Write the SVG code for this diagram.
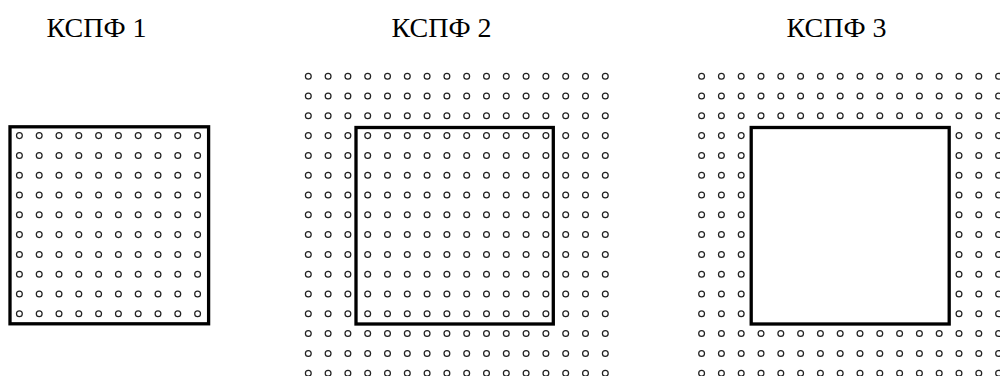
<svg xmlns="http://www.w3.org/2000/svg" width="1000" height="376" viewBox="0 0 1000 376">
<defs>
<style>
.lbl{font-family:"Liberation Serif","Times New Roman",serif;font-size:28px;fill:#000}
.frame{fill:none;stroke:#000;stroke-width:3.3}
.blank{fill:#fff;stroke:#000;stroke-width:3.3}
.d{fill:none;stroke:#222;stroke-width:1.25}
</style>
<circle id="c" cx="0" cy="0" r="2.9" class="d"/>
<g id="row10">
<use href="#c" x="0"/><use href="#c" x="19.8"/><use href="#c" x="39.6"/><use href="#c" x="59.4"/><use href="#c" x="79.2"/><use href="#c" x="99"/><use href="#c" x="118.8"/><use href="#c" x="138.6"/><use href="#c" x="158.4"/><use href="#c" x="178.2"/>
</g>
<g id="row16">
<use href="#c" x="0"/><use href="#c" x="19.8"/><use href="#c" x="39.6"/><use href="#c" x="59.4"/><use href="#c" x="79.2"/><use href="#c" x="99"/><use href="#c" x="118.8"/><use href="#c" x="138.6"/><use href="#c" x="158.4"/><use href="#c" x="178.2"/><use href="#c" x="198"/><use href="#c" x="217.8"/><use href="#c" x="237.6"/><use href="#c" x="257.4"/><use href="#c" x="277.2"/><use href="#c" x="297"/>
</g>
<g id="grid10">
<use href="#row10" y="0"/><use href="#row10" y="19.8"/><use href="#row10" y="39.6"/><use href="#row10" y="59.4"/><use href="#row10" y="79.2"/><use href="#row10" y="99"/><use href="#row10" y="118.8"/><use href="#row10" y="138.6"/><use href="#row10" y="158.4"/><use href="#row10" y="178.2"/>
</g>
<g id="grid16">
<use href="#row16" y="0"/><use href="#row16" y="19.8"/><use href="#row16" y="39.6"/><use href="#row16" y="59.4"/><use href="#row16" y="79.2"/><use href="#row16" y="99"/><use href="#row16" y="118.8"/><use href="#row16" y="138.6"/><use href="#row16" y="158.4"/><use href="#row16" y="178.2"/><use href="#row16" y="198"/><use href="#row16" y="217.8"/><use href="#row16" y="237.6"/><use href="#row16" y="257.4"/><use href="#row16" y="277.2"/><use href="#row16" y="297"/>
</g>
</defs>
<rect width="1000" height="376" fill="#fff"/>
<g id="panel1">
<text class="lbl" x="46.5" y="37">КСПФ 1</text>
<use href="#grid10" x="19.4" y="135.6"/>
<rect class="frame" x="10" y="126.8" width="198.6" height="197"/>
</g>
<g id="panel2">
<text class="lbl" x="391.5" y="37">КСПФ 2</text>
<use href="#grid16" x="308.3" y="76.2"/>
<rect class="frame" x="356" y="127.5" width="197.3" height="196.5"/>
</g>
<g id="panel3">
<text class="lbl" x="786.5" y="37">КСПФ 3</text>
<use href="#grid16" x="701.6" y="76.2"/>
<rect class="blank" x="751.2" y="127.5" width="198" height="196.5"/>
</g>
<g id="connectors"/>
</svg>
